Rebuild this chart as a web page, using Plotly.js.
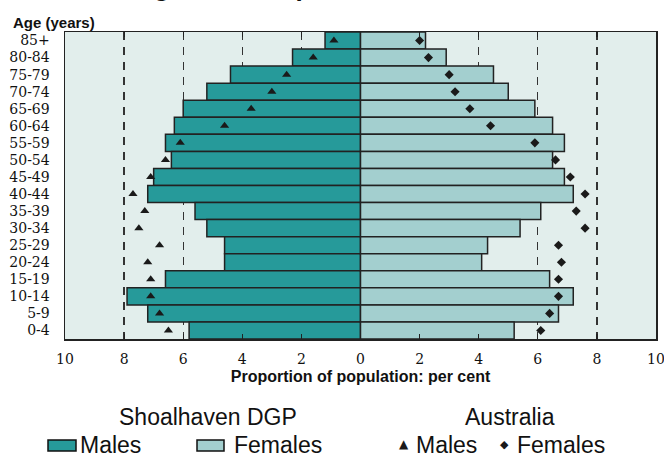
<!DOCTYPE html>
<html><head><meta charset="utf-8">
<script src="https://cdn.plot.ly/plotly-3.0.1.min.js"></script>
<style>html,body{margin:0;padding:0;background:#fff}#chart{width:664px;height:457px}</style>
</head><body><div id="chart"></div>
<script>
// Age groups, top to bottom
const ageGroups = ['85+','80-84','75-79','70-74','65-69','60-64','55-59','50-54','45-49','40-44','35-39','30-34','25-29','20-24','15-19','10-14','5-9','0-4'];
// Shoalhaven DGP (per cent)
const shoalMales   = [1.2,2.3,4.4,5.2,6.0,6.3,6.6,6.4,7.0,7.2,5.6,5.2,4.6,4.6,6.6,7.9,7.2,5.8];
const shoalFemales = [2.2,2.9,4.5,5.0,5.9,6.5,6.9,6.5,6.9,7.2,6.1,5.4,4.3,4.1,6.4,7.2,6.7,5.2];
// Australia (per cent)
const ausMales     = [0.9,1.6,2.5,3.0,3.7,4.6,6.1,6.6,7.1,7.7,7.3,7.5,6.8,7.2,7.1,7.1,6.8,6.5];
const ausFemales   = [2.0,2.3,3.0,3.2,3.7,4.4,5.9,6.6,7.1,7.6,7.3,7.6,6.7,6.8,6.7,6.7,6.4,6.1];
// Axis ticks
const xTickVals = [-10,-8,-6,-4,-2,0,2,4,6,8,10];
const xTickText = ['10','8','6','4','2','0','2','4','6','8','10'];

const maleColor = '#269a9a', femaleColor = '#a3cfcf', ink = '#1a1a1a';
const neg = a => a.map(v => -v);

const traces = [
  {type:'bar', orientation:'h', y:ageGroups, x:neg(shoalMales), name:'Shoalhaven Males',
   marker:{color:maleColor, line:{color:'#222', width:1.5}}, width:1, showlegend:false},
  {type:'bar', orientation:'h', y:ageGroups, x:shoalFemales, name:'Shoalhaven Females',
   marker:{color:femaleColor, line:{color:'#222', width:1.5}}, width:1, showlegend:false},
  {type:'scatter', mode:'markers', y:ageGroups, x:neg(ausMales), name:'Australia Males',
   marker:{symbol:'triangle-up', size:8, color:ink}, showlegend:false},
  {type:'scatter', mode:'markers', y:ageGroups, x:ausFemales, name:'Australia Females',
   marker:{symbol:'diamond', size:7, color:ink}, showlegend:false}
];

const W = 591, H = 307, L = 65, T = 32;
const px = x => (x - L) / W;
const py = y => (T + H - y) / H;
const legFont = {family:'Liberation Sans, Arial, sans-serif', size:23, color:'#111'};

const layout = {
  width:664, height:457,
  margin:{l:65, r:8, t:32, b:118},
  paper_bgcolor:'#ffffff', plot_bgcolor:'#e2eeec',
  barmode:'overlay', bargap:0,
  showlegend:false,
  xaxis:{range:[-10,10], tickvals:xTickVals, ticktext:xTickText,
    ticks:'inside', ticklen:5, tickwidth:1.2, tickcolor:'#222',
    showline:true, mirror:'ticks', linecolor:'#222', linewidth:1.5,
    showgrid:true, gridcolor:'#333', gridwidth:1.3, griddash:'8px,7px',
    zeroline:true, zerolinecolor:'#111', zerolinewidth:2,
    tickfont:{family:'DejaVu Serif, serif', size:14, color:'#111'},
    ticklabelstandoff:7, ticklabeloverflow:'allow',
    title:{text:'Proportion of population: per cent', standoff:4,
      font:{family:'Liberation Sans, Arial, sans-serif', size:16, color:'#111', weight:'bold'}}},
  yaxis:{type:'category', range:[17.5,-0.5], autorange:false,
    showline:true, mirror:true, linecolor:'#222', linewidth:1.5,
    showgrid:false, zeroline:false, ticks:'',
    tickfont:{family:'DejaVu Serif, serif', size:14, color:'#111'},
    ticklabelstandoff:11},
  shapes:[
    {type:'rect', xref:'paper', yref:'paper', x0:px(48), x1:px(76), y0:py(451), y1:py(440),
     fillcolor:maleColor, line:{color:'#111', width:1.5}},
    {type:'rect', xref:'paper', yref:'paper', x0:px(197), x1:px(224), y0:py(451), y1:py(440),
     fillcolor:femaleColor, line:{color:'#111', width:1.5}}
  ],
  annotations:[
    {text:'<b>Age and sex profile</b>', xref:'paper', yref:'paper', x:px(133), y:py(4),
     xanchor:'left', yanchor:'bottom', showarrow:false,
     font:{family:'Liberation Sans, Arial, sans-serif', size:26, color:'#111'}},
    {text:'<b>Age (years)</b>', xref:'paper', yref:'paper', x:px(11), y:py(23),
     xanchor:'left', yanchor:'middle', showarrow:false,
     font:{family:'Liberation Sans, Arial, sans-serif', size:15, color:'#111'}},
    {text:'Shoalhaven DGP', xref:'paper', yref:'paper', x:px(208), y:py(417),
     xanchor:'center', yanchor:'middle', showarrow:false, font:legFont},
    {text:'Australia', xref:'paper', yref:'paper', x:px(510), y:py(417),
     xanchor:'center', yanchor:'middle', showarrow:false, font:legFont},
    {text:'Males', xref:'paper', yref:'paper', x:px(78), y:py(445),
     xanchor:'left', yanchor:'middle', showarrow:false, font:legFont},
    {text:'Females', xref:'paper', yref:'paper', x:px(232), y:py(445),
     xanchor:'left', yanchor:'middle', showarrow:false, font:legFont},
    {text:'▲', xref:'paper', yref:'paper', x:px(404), y:py(444),
     xanchor:'center', yanchor:'middle', showarrow:false,
     font:{family:'DejaVu Sans, sans-serif', size:12, color:ink}},
    {text:'Males', xref:'paper', yref:'paper', x:px(414), y:py(445),
     xanchor:'left', yanchor:'middle', showarrow:false, font:legFont},
    {text:'◆', xref:'paper', yref:'paper', x:px(504), y:py(444),
     xanchor:'center', yanchor:'middle', showarrow:false,
     font:{family:'DejaVu Sans, sans-serif', size:11, color:ink}},
    {text:'Females', xref:'paper', yref:'paper', x:px(515), y:py(445),
     xanchor:'left', yanchor:'middle', showarrow:false, font:legFont}
  ]
};

Plotly.newPlot('chart', traces, layout, {displayModeBar:false, staticPlot:true});
</script></body></html>
